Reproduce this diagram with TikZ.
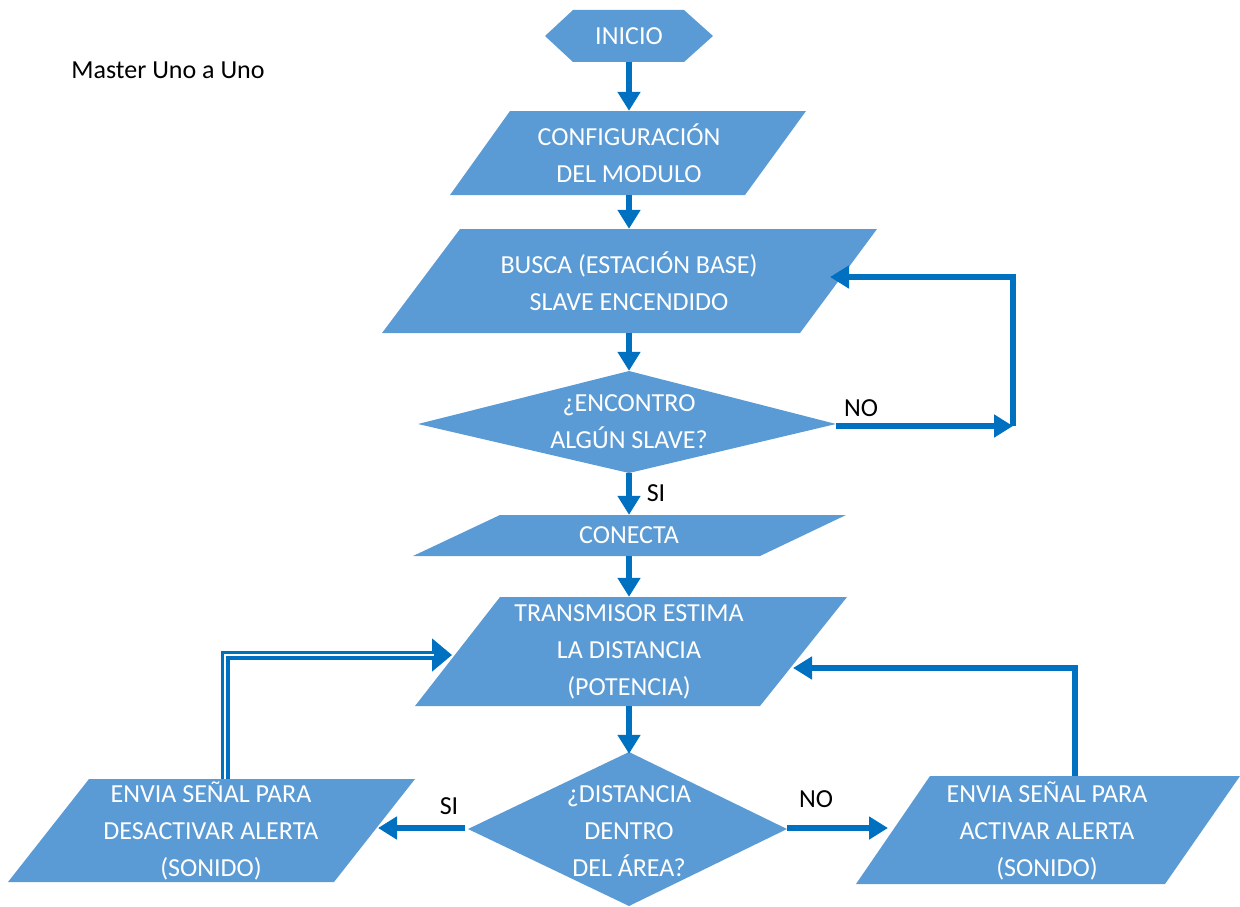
\documentclass[tikz,border=0pt]{standalone}
\usepackage{fontspec}
\setmainfont{Carlito}
\usetikzlibrary{arrows.meta}
\definecolor{shp}{HTML}{5B9BD5}
\definecolor{arr}{HTML}{0070C0}
\begin{document}
\begin{tikzpicture}[x=1pt,y=-1pt,
 shapefill/.style={fill=shp},
 txt/.style={text=white,font=\fontsize{26}{37}\selectfont,align=center,inner sep=0pt},
 lbl/.style={text=black,font=\fontsize{26}{30}\selectfont,inner sep=0pt},
 conn/.style={draw=arr,line width=6pt,-{Triangle[length=19pt,width=22pt]}},
]
\useasboundingbox (0,0) rectangle (1240,907);
% title
\node[lbl] (title) at (168,70) {Master Uno a Uno};
% INICIO
\fill[shapefill] (545,36) -- (573,10) -- (684,10) -- (713,36) -- (684,62) -- (573,62) -- cycle;
\node[txt,minimum height=52pt] (ini) at (629,36) {INICIO};
% CONFIGURACION
\fill[shapefill] (510,111) -- (806,111) -- (745,195) -- (450,195) -- cycle;
\node[txt,minimum height=84pt] (conf) at (629,153) {CONFIGURACIÓN\\DEL MODULO};
% BUSCA
\fill[shapefill] (460,229) -- (877,229) -- (800,333) -- (382,333) -- cycle;
\node[txt,minimum height=104pt] (busca) at (629,281) {BUSCA (ESTACIÓN BASE)\\SLAVE ENCENDIDO};
\coordinate (buscaE) at (830,277);
% diamond 1
\fill[shapefill] (629,371) -- (836,424) -- (629,473) -- (418,424) -- cycle;
\node[txt,minimum height=102pt] (enc) at (629,422) {¿ENCONTRO\\ALGÚN SLAVE?};
\coordinate (encE) at (836,426);
\coordinate (noR) at (1013,426);
% CONECTA
\fill[shapefill] (500,515) -- (846,515) -- (760,556) -- (413,556) -- cycle;
\node[txt,minimum height=41pt] (con) at (629,535.5) {CONECTA};
% TRANSMISOR
\fill[shapefill] (500,597) -- (847,597) -- (760,706) -- (415,706) -- cycle;
\node[txt,minimum height=109pt] (tra) at (629,651.5) {TRANSMISOR ESTIMA\\LA DISTANCIA\\(POTENCIA)};
\coordinate (traW) at (452,655);
\coordinate (traE) at (793,668);
% diamond 2
\fill[shapefill] (629,752) -- (787,829) -- (629,906) -- (468,829) -- cycle;
\node[txt,minimum height=154pt] (dis) at (629,831) {¿DISTANCIA\\DENTRO\\DEL ÁREA?};
\coordinate (disW) at (465,828);
\coordinate (disE) at (787,828);
% left box
\fill[shapefill] (89,779) -- (415,779) -- (334,882) -- (8,882) -- cycle;
\node[txt] (lft) at (211,830.5) {ENVIA SEÑAL PARA\\DESACTIVAR ALERTA\\(SONIDO)};
\coordinate (lftE) at (378,828);
\coordinate (lftN) at (225,779);
% right box
\fill[shapefill] (930,776) -- (1240,776) -- (1165,884) -- (856,884) -- cycle;
\node[txt] (rgt) at (1047,830.5) {ENVIA SEÑAL PARA\\ACTIVAR ALERTA\\(SONIDO)};
\coordinate (rgtW) at (888,828);
\coordinate (rgtN) at (1075,776);
% connectors
\draw[conn] (ini.south) -- (conf.north);
\draw[conn] (conf.south) -- (busca.north);
\draw[conn] (busca.south) -- (enc.north);
\draw[conn] (enc.south) -- (con.north);
\draw[conn] (con.south) -- (tra.north);
\draw[conn] (tra.south) -- (dis.north);
\draw[conn] (encE) -- (noR);
\draw[conn] (noR) |- (buscaE);
\draw[conn] (disW) -- (lftE);
\draw[conn] (disE) -- (rgtW);
\draw[conn] (rgtN) |- (traE);
\draw[draw=arr,line width=9pt,-{Triangle[length=20pt,width=32pt]}] (lftN) |- (traW);
\draw[white,line width=2.5pt,shorten >=18pt] (lftN) |- (traW);
% labels
\node[lbl] (noA) at (861,408) {NO};
\node[lbl] (siA) at (656,493) {SI};
\node[lbl] (siB) at (449,806) {SI};
\node[lbl] (noB) at (816,799) {NO};
\end{tikzpicture}
\end{document}
